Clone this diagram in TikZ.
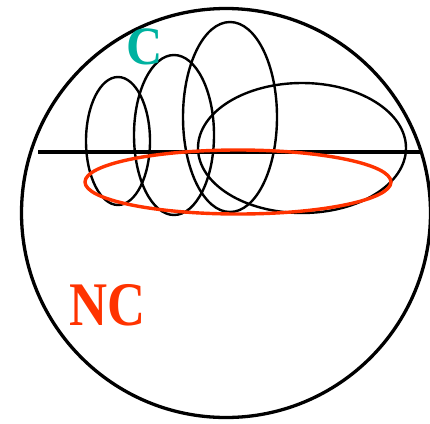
\documentclass[tikz,border=0pt]{standalone}
\usepackage{fontspec}
\setmainfont{Liberation Serif}
\usetikzlibrary{positioning}
\definecolor{tealC}{RGB}{0,178,160}
\definecolor{redNC}{RGB}{255,51,0}

\begin{document}
\begin{tikzpicture}[x=1pt,y=-1pt]
            \useasboundingbox (0,0) rectangle (430,423);
            \coordinate (O) at (226,213);
            \coordinate (L) at (38,152);
            \coordinate (R) at (422,152);

            \coordinate (E1) at (118,141);
            \coordinate (E2) at (174,135);
            \coordinate (E3) at (230,117);
            \coordinate (E4) at (302,148);
            \coordinate (N) at (238,182);

            \draw[line width=3.3pt] (O) circle (204.5);
            \draw[line width=3.2pt] (L)--(R);

            \draw[line width=2.4pt] (E1) ellipse [x radius=32, y radius=64];
            \draw[line width=2.4pt] (E2) ellipse [x radius=40, y radius=80];
            \draw[line width=2.4pt] (E3) ellipse [x radius=47, y radius=95];
            \draw[line width=2.4pt] (E4) ellipse [x radius=104, y radius=65];
            \draw[redNC, line width=3.4pt] (N) ellipse [x radius=153, y radius=32];

            \node[tealC, font=\fontsize{54}{54}\selectfont\bfseries, xscale=0.93] (c) at (145,47) {C};
            \node[redNC, font=\fontsize{62}{62}\selectfont\bfseries, xscale=0.85] (nc) at (108,305) {NC};
        \end{tikzpicture}
\end{document}
